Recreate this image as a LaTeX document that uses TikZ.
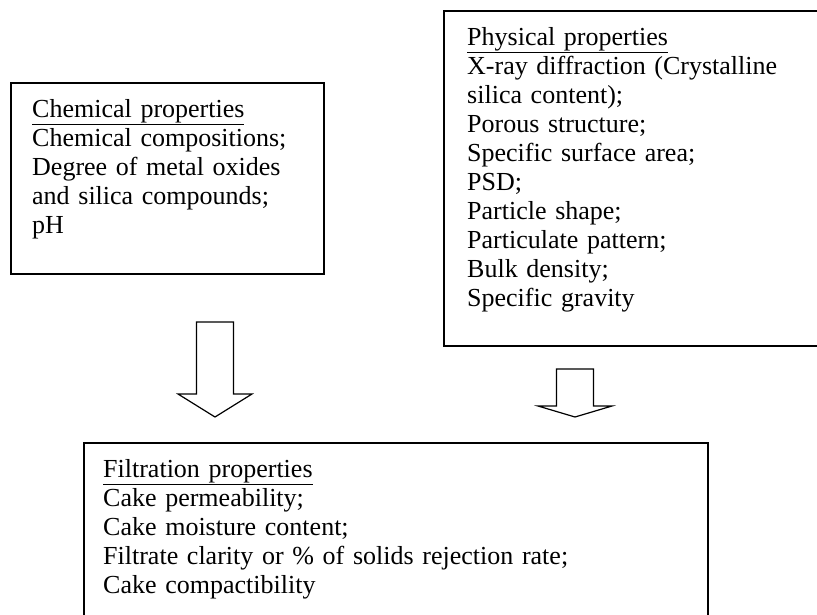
\documentclass[tikz,border=0pt]{standalone}
\usepackage{fontspec}
\setmainfont{Liberation Serif}
\usepackage{tikz}
\usetikzlibrary{positioning}
\newcommand{\hollowarr}[4]{\draw[arrline] ({#1-18.5},#2) -- ({#1+18.5},#2) -- ({#1+18.5},#3) -- ({#1+37},#3) -- (#1,#4) -- ({#1-37},#3) -- ({#1-18.5},#3) -- cycle;}

\begin{document}
\begin{tikzpicture}[x=1pt,y=-1pt,
    propbox/.style={draw, line width=1.6pt, inner sep=0pt, anchor=north west},
    proptext/.style={anchor=base west, inner sep=0pt, align=left,
        font=\fontsize{26}{29}\selectfont},
    arrline/.style={line width=1.2pt, line join=miter}]
        \clip (0,0) rectangle (817,614);
        %boxes
        \node[propbox, minimum width=313pt, minimum height=191pt] (chem) at (10,82) {};
        \node[propbox, minimum width=377pt, minimum height=335pt] (phys) at (443,10) {};
        \node[propbox, minimum width=624pt, minimum height=178pt] (filt) at (83,442) {};
        %texts
        \node[proptext, text width=290pt] (chemtxt) at (32,117) {\underline{Chemical properties}\\
            Chemical compositions;\\ Degree of metal oxides\\ and silica compounds;\\ pH};
        \node[proptext, text width=340pt] (phystxt) at (467,45) {\underline{Physical properties}\\
            X-ray diffraction (Crystalline\\ silica content);\\ Porous structure;\\
            Specific surface area;\\ PSD;\\ Particle shape;\\ Particulate pattern;\\
            Bulk density;\\ Specific gravity};
        \node[proptext, text width=580pt] (filttxt) at (103,477) {\underline{Filtration properties}\\
            Cake permeability;\\ Cake moisture content;\\
            Filtrate clarity or \% of solids rejection rate;\\ Cake compactibility};
        %arrows
        \hollowarr{215}{322}{394}{417}
        \hollowarr{575}{369}{406}{417}
\end{tikzpicture}
\end{document}
